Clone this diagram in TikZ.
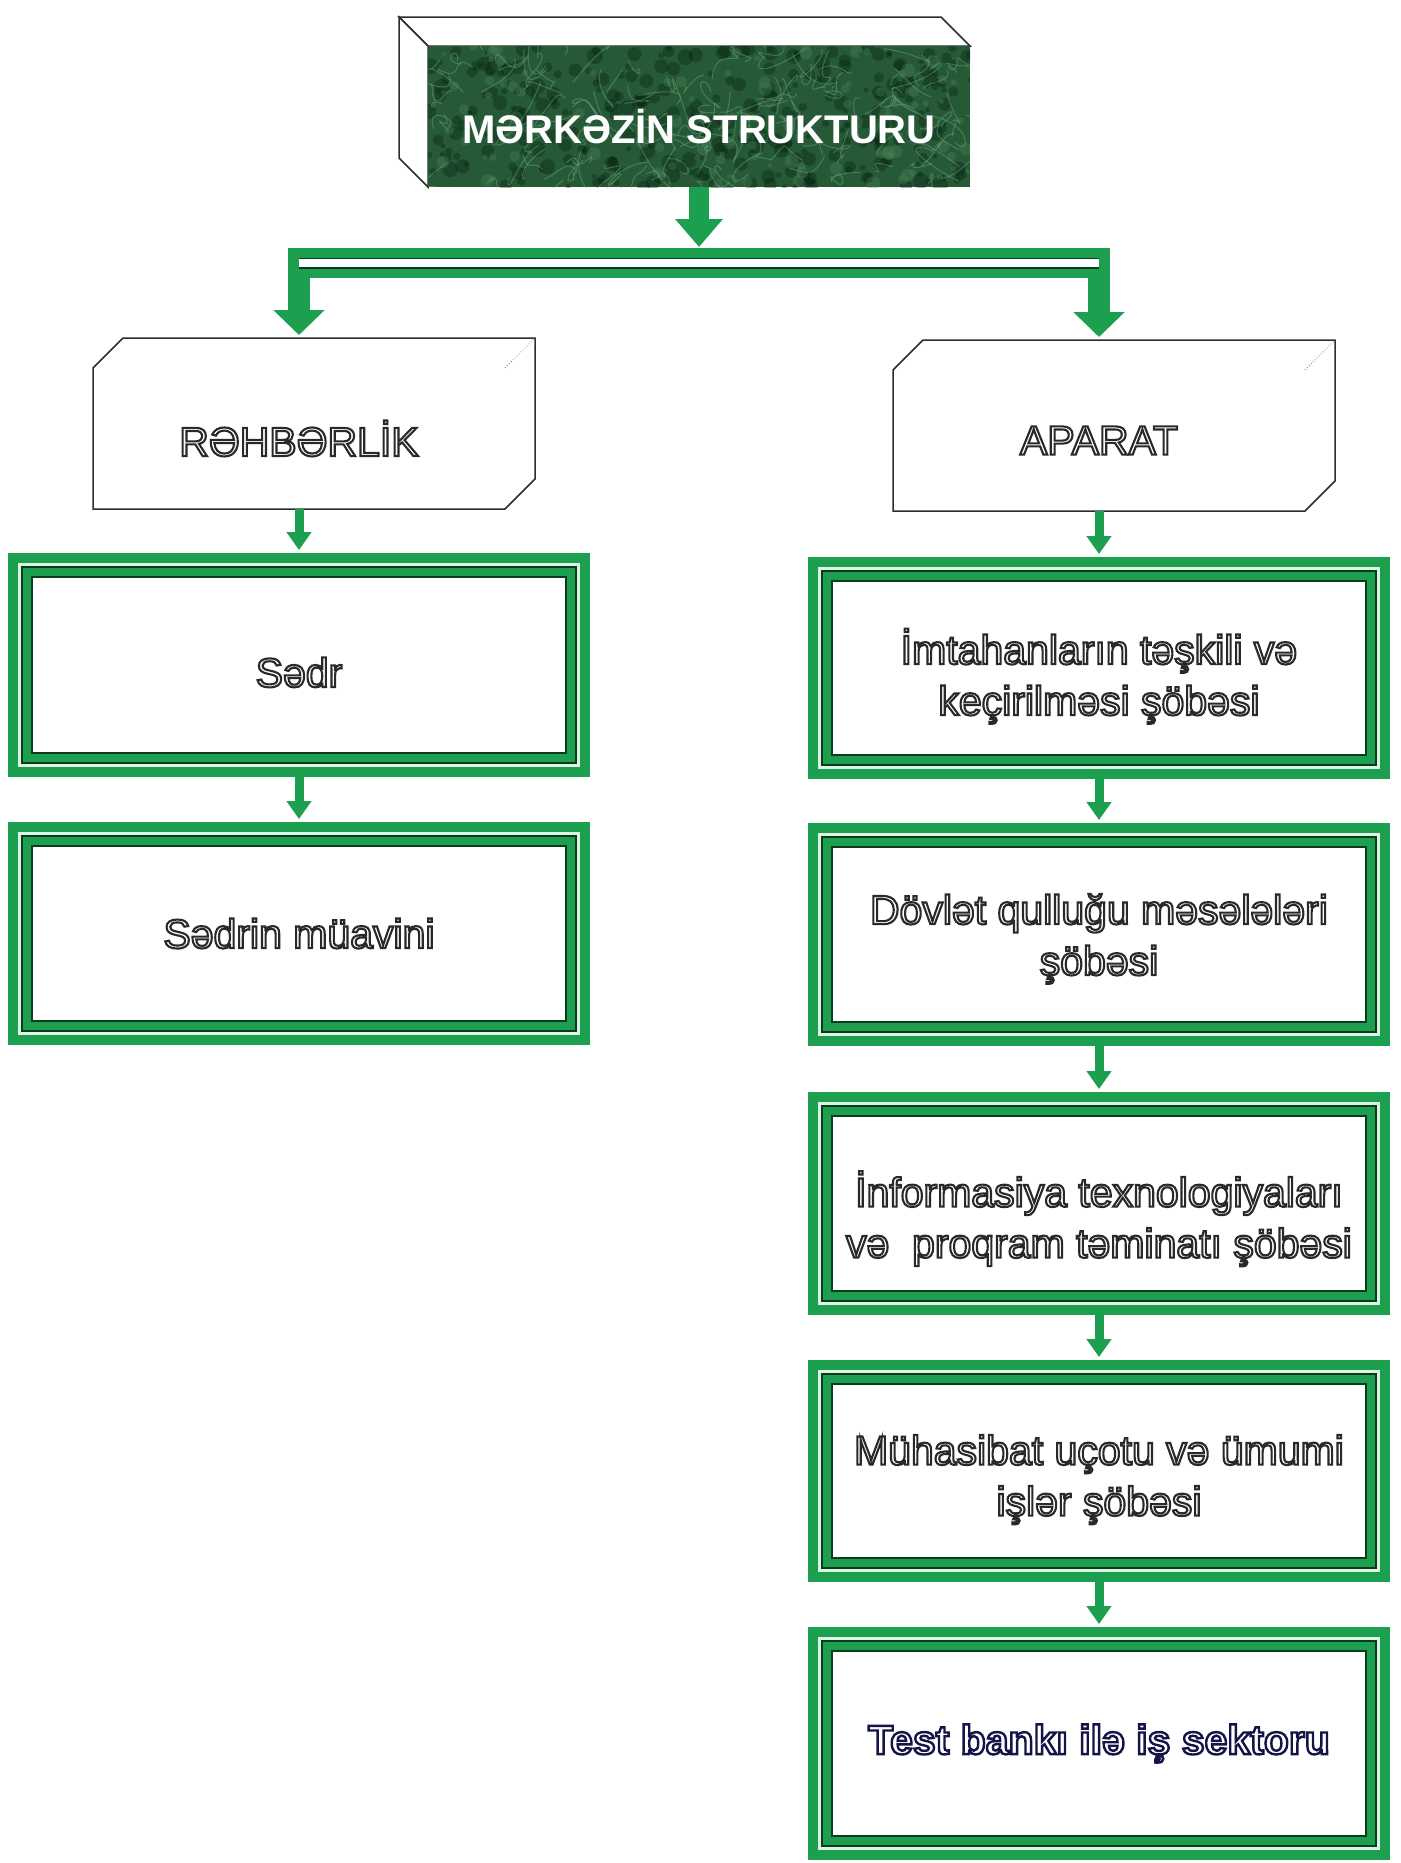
\documentclass[tikz,border=0pt]{standalone}
\usepackage{fontspec}
\setmainfont{Liberation Sans}
\usetikzlibrary{arrows.meta}
\definecolor{mygreen}{RGB}{28,160,80}
\definecolor{darkline}{RGB}{8,60,28}
\definecolor{gapcol}{RGB}{220,244,228}
\definecolor{marble}{RGB}{38,90,55}
\definecolor{streakc}{RGB}{110,170,125}
\definecolor{lightc}{RGB}{75,135,92}
\definecolor{blotc}{RGB}{5,32,14}
\definecolor{edgec}{RGB}{45,45,45}
% outlined text: white fill, dark stroke (xdvipdfmx literal)
\newcommand{\otx}[1]{\special{pdf:literal direct 2 Tr 2.1 w 0.16 0.16 0.16 RG}#1\special{pdf:literal direct 0 Tr}}
\newcommand{\otxb}[1]{\special{pdf:literal direct 2 Tr 2.4 w 0.08 0.08 0.28 RG}#1\special{pdf:literal direct 0 Tr}}
\pgfmathsetseed{17}
\begin{document}
\begin{tikzpicture}[x=1pt,y=-1pt,
  otext/.style={text=white, font=\fontsize{41}{51}\selectfont},
  frm/.style={otext, draw=mygreen, line width=10pt, fill=white, inner sep=0pt,
     minimum width=572pt, align=center,
     path picture={
       \draw[gapcol, line width=3pt] ([shift={(6.5pt,-6.5pt)}]path picture bounding box.north west) rectangle ([shift={(-6.5pt,6.5pt)}]path picture bounding box.south east);
       \draw[darkline, line width=12pt] ([shift={(14pt,-14pt)}]path picture bounding box.north west) rectangle ([shift={(-14pt,14pt)}]path picture bounding box.south east);
       \draw[mygreen, line width=8pt] ([shift={(14pt,-14pt)}]path picture bounding box.north west) rectangle ([shift={(-14pt,14pt)}]path picture bounding box.south east);
     }},
  cubef/.style={otext, fill=white, inner sep=0pt, outer sep=0pt, minimum width=412pt, minimum height=141pt},
  cubeedge/.style={draw=edgec, line width=1.5pt, line join=miter},
  arr/.style={draw=mygreen, line width=9pt, -{Triangle[width=24pt,length=18pt]}, shorten >=3pt},
  legarr/.style={draw=mygreen, line width=22pt, -{Triangle[width=50pt,length=25pt]}, shorten >=3pt},
  bigarr/.style={draw=mygreen, line width=20pt, -{Triangle[width=46pt,length=28pt]}, shorten >=1pt}
]
\fill[white] (0,0) rectangle (1400,1863);
\useasboundingbox (0,0) rectangle (1400,1863);

% ---- top cube ----
\draw[cubeedge, fill=white] (428,46) -- (399,17) -- (941,17) -- (970,46) -- cycle;
\draw[cubeedge, fill=white] (428,46) -- (399,17) -- (399,158) -- (428,187) -- cycle;
\fill[marble] (428,46) rectangle (970,187);
\begin{scope}
  \clip (428,46) rectangle (970,187);
  \foreach \i in {1,...,320}{
    \pgfmathsetmacro{\xa}{428+542*rnd}
    \pgfmathsetmacro{\ya}{46+141*rnd}
    \pgfmathsetmacro{\rr}{2+6*rnd}
    \fill[blotc, opacity=0.35] (\xa,\ya) circle[radius=\rr];
  }
  \foreach \i in {1,...,120}{
    \pgfmathsetmacro{\xa}{428+542*rnd}
    \pgfmathsetmacro{\ya}{46+141*rnd}
    \pgfmathsetmacro{\rr}{2+5*rnd}
    \fill[lightc, opacity=0.35] (\xa,\ya) circle[radius=\rr];
  }
  \foreach \i in {1,...,140}{
    \pgfmathsetmacro{\xa}{428+542*rnd}
    \pgfmathsetmacro{\ya}{46+141*rnd}
    \pgfmathsetmacro{\xb}{\xa-25+50*rnd}
    \pgfmathsetmacro{\yb}{\ya-25+50*rnd}
    \pgfmathsetmacro{\xc}{\xa-25+50*rnd}
    \pgfmathsetmacro{\yc}{\ya-25+50*rnd}
    \pgfmathsetmacro{\xd}{\xa-40+80*rnd}
    \pgfmathsetmacro{\yd}{\ya-40+80*rnd}
    \draw[streakc, opacity=0.45, line width=1pt] (\xa,\ya) .. controls (\xb,\yb) and (\xc,\yc) .. (\xd,\yd);
  }
\end{scope}
\node[inner sep=0pt, outer sep=0pt, minimum width=542pt, minimum height=141pt,
      text=white, font=\fontsize{40}{48}\selectfont\bfseries, text height=53pt, text depth=0pt]
      (topbox) at (699,116.5) {MƏRKƏZİN STRUKTURU};

% ---- second level cubes ----
\node[cubef] (rehb) at (299,438.5) {\otx{RƏHBƏRLİK}};
\draw[cubeedge] (rehb.south west) -- (rehb.north west) -- ++(30pt,30pt)
  -- ([shift={(30pt,30pt)}]rehb.north east) -- ([shift={(30pt,30pt)}]rehb.south east)
  -- (rehb.south east) -- cycle;
\draw[gray, dotted, line width=0.8pt] (rehb.north east) -- ++(30pt,30pt);

\node[cubef] (apar) at (1099,440.5) {\otx{APARAT}};
\draw[cubeedge] (apar.south west) -- (apar.north west) -- ++(30pt,30pt)
  -- ([shift={(30pt,30pt)}]apar.north east) -- ([shift={(30pt,30pt)}]apar.south east)
  -- (apar.south east) -- cycle;
\draw[gray, dotted, line width=0.8pt] (apar.north east) -- ++(30pt,30pt);

% ---- bar connector ----
\coordinate (bl) at (299,263);
\coordinate (br) at (1099,263);
\coordinate (bmid) at (699,248);
\draw[bigarr] (topbox.south) -- (bmid);
\draw[mygreen, line width=30pt] ([xshift=-11pt]bl) -- ([xshift=11pt]br);
\draw[legarr] (bl) -- ([yshift=30pt]rehb.north);
\draw[legarr] (br) -- ([yshift=30pt]apar.north);
\draw[darkline, line width=11pt] (bl) -- (br);
\draw[white, line width=8pt] (bl) -- (br);

% ---- left column ----
\node[frm, minimum height=214pt, text height=44pt, text depth=0pt] (sedr) at (299,665) {\otx{Sədr}};
\node[frm, minimum height=213pt] (sedrm) at (299,933.5) {\otx{Sədrin müavini}};

% ---- right column ----
\node[frm, minimum height=212pt] (b1) at (1099,668) {\otx{\rule{0pt}{52pt}İmtahanların təşkili və\\keçirilməsi şöbəsi}};
\node[frm, minimum height=213pt] (b2) at (1099,934.5) {\otx{\rule{0pt}{39pt}Dövlət qulluğu məsələləri\\şöbəsi}};
\node[frm, minimum height=213pt] (b3) at (1099,1203.5) {\otx{\rule{0pt}{66pt}İnformasiya texnologiyaları\\və~ proqram təminatı şöbəsi}};
\node[frm, minimum height=212pt] (b4) at (1099,1471) {\otx{\rule{0pt}{47pt}Mühasibat uçotu və ümumi\\işlər şöbəsi}};
\node[frm, minimum height=223pt, font=\fontsize{41}{51}\selectfont\bfseries]
      (b5) at (1099,1743.5) {\otxb{Test bankı ilə iş sektoru}};

% ---- arrows ----
\draw[arr] (rehb.south) -- (sedr.north);
\draw[arr] (sedr.south) -- (sedrm.north);
\draw[arr] (apar.south) -- (b1.north);
\draw[arr] (b1.south) -- (b2.north);
\draw[arr] (b2.south) -- (b3.north);
\draw[arr] (b3.south) -- (b4.north);
\draw[arr] (b4.south) -- (b5.north);
\end{tikzpicture}
\end{document}
